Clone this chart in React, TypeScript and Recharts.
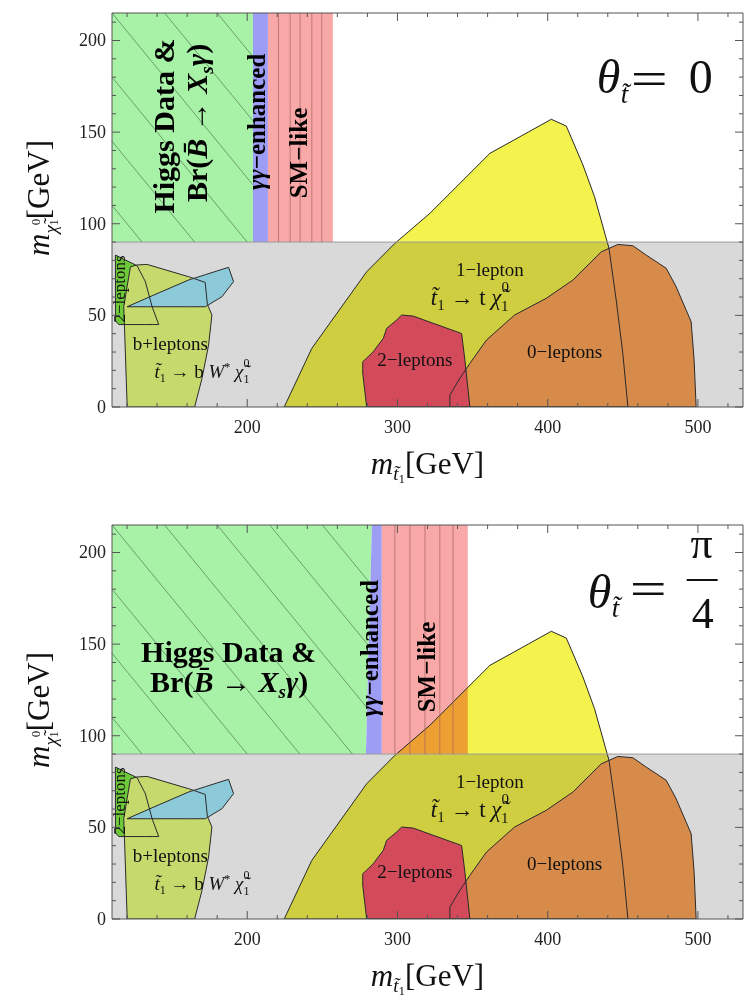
import React from "react";
import { ComposedChart, Area, XAxis, YAxis, ReferenceLine, ReferenceDot } from "recharts";

// rows are [m_stop, low, high] in GeV
type Row = [number, number, number];

const xMajor = [200, 300, 400, 500];
const xTicks = [120, 140, 160, 180, 200, 220, 240, 260, 280, 300, 320, 340, 360, 380, 400, 420, 440, 460, 480, 500, 520];
const yMajor = [0, 50, 100, 150, 200];
const yTicks = [0, 10, 20, 30, 40, 50, 60, 70, 80, 90, 100, 110, 120, 130, 140, 150, 160, 170, 180, 190, 200, 210];

const grayBand: Row[] = [[110, 0, 90], [530, 0, 90]];

// theta = 0
const higgsTop: Row[] = [[110, 90, 215], [203.8, 90, 215]];
const gammaTop: Row[] = [[203.8, 90, 215], [213.8, 90, 215]];
const smTop: Row[] = [[213.8, 90, 215], [257, 90, 215]];
const hatchTop = [
  [110, 110, 130, 90], [110, 145, 165, 90], [110, 180, 200, 90],
  [110, 215, 203.8, 121.2], [145, 215, 203.8, 156.2], [180, 215, 203.8, 191.2],
];
const smLinesTop = [220.8, 228.6, 235.2, 243, 249.6];

// theta = pi/4
const higgsBottom: Row[] = [[110, 90, 215], [279, 90, 215], [283, 215, 215]];
const gammaBottom: Row[] = [[279, 90, 90], [283, 90, 215], [289.6, 90, 215]];
const smBottom: Row[] = [[289.6, 90, 215], [346.8, 90, 215]];
const hatchBottom = [
  [110, 110, 130, 90], [110, 145, 165, 90], [110, 180, 200, 90], [110, 215, 235, 90],
  [145, 215, 270, 90], [180, 215, 280, 115], [215, 215, 281, 149], [250, 215, 282, 183],
];
const smLinesBottom = [298.3, 308.3, 318.3, 328.2, 337];

// search regions, same in both panels
const oneLepton: Row[] = [
  [224.6, 0, 0], [243, 0, 32], [279.5, 0, 73.8], [298.3, 0, 89.3], [321.6, 0, 105.7],
  [361.5, 0, 138.4], [402.4, 0, 157], [412.4, 0, 153.3], [423.5, 0, 132], [431.2, 0, 114.7],
  [440.8, 0, 86.6], [445.6, 0, 58.4], [450, 0, 29.3], [453.4, 0, 0],
];
const zeroLeptons: Row[] = [
  [334.9, 0, 0], [334.9, 0, 6.5], [341.5, 0, 15.6], [348.2, 0, 23.8], [359.3, 0, 36.6],
  [378, 0, 50.2], [399, 0, 59.3], [416.8, 0, 69.3], [435.7, 0, 84.7], [446.7, 0, 88.7],
  [456.7, 0, 88], [465.6, 0, 82.9], [478.9, 0, 75.7], [485.5, 0, 65.6], [495.5, 0, 46.5],
  [497.5, 0, 25], [498.8, 0, 0],
];
const twoLeptons: Row[] = [
  [276.9, 21, 21], [276.9, 18.4, 24.7], [279.5, 0, 26.7], [283.9, 0, 30.2], [290.6, 0, 37.5],
  [292.8, 0, 42.9], [299.5, 0, 47.5], [302.8, 0, 50.2], [310.5, 0, 49.6], [342.7, 0, 40.1],
  [344.9, 0, 25.6], [348.2, 0, 0],
];
const twoLeptonsBW: Row[] = [
  [112.3, 50, 50], [112.3, 47, 82.9], [114.5, 45, 82], [126.7, 45, 77.1], [132.2, 45, 68.4],
  [136.7, 45, 54.7], [141.1, 45, 45],
];
const bLeptons: Row[] = [
  [117.8, 54.7, 54.7], [118.5, 39.3, 58], [120.1, 0, 66], [122.3, 0, 76.5], [126.7, 0, 77.5],
  [133.4, 0, 77.8], [161, 0, 71.1], [165, 0, 70], [169.9, 15.6, 68.6], [172, 24.3, 68],
  [173.5, 30.5, 56], [174.3, 33.8, 54.5], [176.5, 50.2, 50.2],
];
const blueRegion: Row[] = [
  [120.1, 54.7, 54.7], [136.7, 54.7, 60.7], [161, 54.7, 69.3], [172.1, 54.7, 72.2],
  [183.2, 60.2, 75.1], [187.6, 64.9, 76.2], [190.9, 68.4, 68.4],
];

const serif = "'Liberation Serif', 'DejaVu Serif', serif";
const FRAME = "#555";
const EDGE = "#2a2a2a";

const rows = (d: Row[]) => d.map(([x, lo, hi]) => ({ x, r: [lo, hi] }));

const fill = (key: string, d: Row[], color: string, className?: string, ids?: { xAxisId: string; yAxisId: string }) => (
  <Area
    key={key}
    {...(ids || {})}
    data={rows(d)}
    dataKey="r"
    type="linear"
    fill={color}
    fillOpacity={1}
    stroke="none"
    className={className}
    dot={false}
    activeDot={false}
    isAnimationActive={false}
  />
);

const edge = (key: string, d: Row[]) => (
  <Area
    key={key}
    data={rows(d)}
    dataKey="r"
    type="linear"
    fill="none"
    stroke={EDGE}
    strokeWidth={1}
    dot={false}
    activeDot={false}
    isAnimationActive={false}
  />
);

const note = (key: string, x: number, y: number, body: React.ReactNode) => (
  <ReferenceDot
    key={key}
    x={x}
    y={y}
    r={0}
    fill="none"
    stroke="none"
    ifOverflow="visible"
    label={(p: any) => {
      const vb = p.viewBox || { x: 0, y: 0, width: 0, height: 0 };
      return <g transform={`translate(${vb.x + vb.width / 2},${vb.y + vb.height / 2})`}>{body}</g>;
    }}
  />
);

const XTick = (p: any) => {
  const major = xMajor.includes(p.payload.value);
  const len = major ? 8 : 4;
  const dir = p.side === "top" ? -1 : 1;
  return (
    <g>
      <line x1={p.x} x2={p.x} y1={p.y} y2={p.y - dir * len} stroke={FRAME} />
      {p.side !== "top" && major && (
        <text x={p.x} y={p.y + 26} textAnchor="middle" fontFamily={serif} fontSize={18} fill="#222">
          {p.payload.value}
        </text>
      )}
    </g>
  );
};

const YTick = (p: any) => {
  const major = yMajor.includes(p.payload.value);
  const len = major ? 8 : 4;
  const dir = p.side === "right" ? -1 : 1;
  return (
    <g>
      <line x1={p.x} x2={p.x + dir * len} y1={p.y} y2={p.y} stroke={FRAME} />
      {p.side !== "right" && major && (
        <text x={p.x - 6} y={p.y + 6} textAnchor="end" fontFamily={serif} fontSize={18} fill="#222">
          {p.payload.value}
        </text>
      )}
    </g>
  );
};

const xTitle = (p: any) => {
  const vb = p.viewBox;
  return (
    <text x={vb.x + vb.width / 2} y={vb.y + 67} textAnchor="middle" fontFamily={serif} fontSize={31} fill="#111">
      <tspan fontStyle="italic">m</tspan>
      <tspan fontStyle="italic" fontSize={19} dy={6}>{"t\u0303"}</tspan>
      <tspan fontSize={13} dy={3}>1</tspan>
      <tspan dy={-9}>[GeV]</tspan>
    </text>
  );
};

const yTitle = (p: any) => {
  const vb = p.viewBox;
  const cx = vb.x + 49;
  const cy = vb.y + 185;
  return (
    <text x={cx} y={cy} transform={`rotate(-90 ${cx} ${cy})`} textAnchor="middle" fontFamily={serif} fontSize={31} fill="#111">
      <tspan fontStyle="italic">m</tspan>
      <tspan fontStyle="italic" fontSize={19} dy={8}>{"\u03C7\u0303"}</tspan>
      <tspan fontSize={13} dy={-17}>0</tspan>
      <tspan fontSize={13} dx={-7} dy={18}>1</tspan>
      <tspan dy={-9}>[GeV]</tspan>
    </text>
  );
};

const plain = (s: string, size = 19) => (
  <text textAnchor="middle" y={size * 0.33} fontFamily={serif} fontSize={size} fill="#111">{s}</text>
);

const lowerNotes = [
  note("l1", 361.5, 74.7, plain("1\u2212lepton")),
  note("l1d", 348.2, 59.5, (
    <text textAnchor="middle" y={7} fontFamily={serif} fontSize={23} fill="#111">
      <tspan fontStyle="italic">{"t\u0303"}</tspan>
      <tspan fontSize={15} dy={5}>1</tspan>
      <tspan dy={-5}>{" \u2192 t "}</tspan>
      <tspan fontStyle="italic">{"\u03C7\u0303"}</tspan>
      <tspan fontSize={15} dy={-13}>0</tspan>
      <tspan fontSize={15} dx={-8} dy={19}>1</tspan>
    </text>
  )),
  note("l2", 311.6, 25.6, plain("2\u2212leptons")),
  note("l0", 411.3, 30.2, plain("0\u2212leptons")),
  note("lb", 148.8, 34.7, plain("b+leptons")),
  note("lbd", 169.9, 19.3, (
    <text textAnchor="middle" y={6} fontFamily={serif} fontSize={19} fill="#111">
      <tspan fontStyle="italic">{"t\u0303"}</tspan>
      <tspan fontSize={12} dy={4}>1</tspan>
      <tspan dy={-4}>{" \u2192 b "}</tspan>
      <tspan fontStyle="italic">W</tspan>
      <tspan fontSize={12} dy={-7}>*</tspan>
      <tspan dy={7}>{"  "}</tspan>
      <tspan fontStyle="italic">{"\u03C7\u0303"}</tspan>
      <tspan fontSize={12} dy={-11}>0</tspan>
      <tspan fontSize={12} dx={-6} dy={16}>1</tspan>
    </text>
  )),
  note("l2v", 114.5, 64.4, (
    <text transform="rotate(-90)" textAnchor="middle" y={6} fontFamily={serif} fontSize={17} fill="#111">
      {"2\u2212leptons"}
    </text>
  )),
];

const bold = { fontFamily: serif, fontWeight: 700 as const, fill: "#000" };

const higgsLine1 = <>Higgs Data &amp;</>;
const higgsLine2 = (
  <>
    Br(<tspan fontStyle="italic">{"B\u0304"}</tspan>{" \u2192 "}
    <tspan fontStyle="italic">X</tspan>
    <tspan fontStyle="italic" fontSize={19} dy={6}>s</tspan>
    <tspan fontStyle="italic" dy={-6}>{"\u03B3"}</tspan>)
  </>
);
const gammaText = (
  <>
    <tspan fontStyle="italic">{"\u03B3\u03B3"}</tspan>{"\u2212enhanced"}
  </>
);

const topNotes = [
  note("h1", 151, 153.3, <text transform="rotate(-90)" textAnchor="middle" fontSize={30} {...bold}>{higgsLine1}</text>),
  note("h2", 173.5, 155, <text transform="rotate(-90)" textAnchor="middle" fontSize={30} {...bold}>{higgsLine2}</text>),
  note("gg", 212, 155.6, <text transform="rotate(-90)" textAnchor="middle" fontSize={25} {...bold}>{gammaText}</text>),
  note("sm", 239.9, 138.6, <text transform="rotate(-90)" textAnchor="middle" fontSize={25} {...bold}>{"SM\u2212like"}</text>),
  note("th", 432.6, 171.1, (
    <g fontFamily={serif} fill="#111">
      <text x={0} y={0} fontSize={48} fontStyle="italic">{"\u03B8"}</text>
      <text x={24} y={10} fontSize={27} fontStyle="italic">{"t\u0303"}</text>
      <text x={34} y={2} fontSize={48} textLength={37} lengthAdjust="spacingAndGlyphs">=</text>
      <text x={92} y={0} fontSize={48}>0</text>
    </g>
  )),
];

const bottomNotes = [
  note("h1", 187.6, 140.4, <text textAnchor="middle" fontSize={30} {...bold}>{higgsLine1}</text>),
  note("h2", 188, 124, <text textAnchor="middle" fontSize={30} {...bold}>{higgsLine2}</text>),
  note("gg", 287, 147.8, <text transform="rotate(-90)" textAnchor="middle" fontSize={25} {...bold}>{gammaText}</text>),
  note("sm", 324.9, 137.5, <text transform="rotate(-90)" textAnchor="middle" fontSize={25} {...bold}>{"SM\u2212like"}</text>),
  note("th", 426.6, 169.7, (
    <g fontFamily={serif} fill="#111">
      <text x={0} y={0} fontSize={48} fontStyle="italic">{"\u03B8"}</text>
      <text x={24} y={9} fontSize={27} fontStyle="italic">{"t\u0303"}</text>
      <text x={42} y={-3} fontSize={48} textLength={37} lengthAdjust="spacingAndGlyphs">=</text>
      <text x={114} y={-50} fontSize={44} textAnchor="middle">{"\u03C0"}</text>
      <line x1={99} x2={130} y1={-28} y2={-28} stroke="#111" strokeWidth={2} />
      <text x={115} y={20} fontSize={44} textAnchor="middle">4</text>
    </g>
  )),
];

type PanelProps = {
  higgs: Row[];
  gamma: Row[];
  sm: Row[];
  hatch: number[][];
  smLines: number[];
  notes: React.ReactNode[];
};

const Panel = ({ higgs, gamma, sm, hatch, smLines, notes }: PanelProps) => (
  <ComposedChart width={744} height={512} margin={{ top: 12, right: 0, bottom: 0, left: 0 }}>
    {fill("gray", grayBand, "#D9D9D9", undefined, { xAxisId: "top", yAxisId: "right" })}
    {fill("higgs", higgs, "#A8F2A8")}
    {fill("gamma", gamma, "#9D9DF6")}
    {fill("sm", sm, "#F9A8A8")}

    {fill("oneLep", oneLepton, "#F4F24C", "mult")}
    {fill("zeroLep", zeroLeptons, "#D68B4B")}
    {fill("twoLep", twoLeptons, "#D34B5B")}
    {fill("twoLepBW", twoLeptonsBW, "#6DC83A")}
    {fill("bLep", bLeptons, "#C6D96C")}
    {fill("blue", blueRegion, "#8CCAD9")}

    {edge("e1", oneLepton)}
    {edge("e0", zeroLeptons)}
    {edge("e2", twoLeptons)}
    {edge("e2bw", twoLeptonsBW)}
    {edge("eb", bLeptons)}
    {edge("ebl", blueRegion)}

    <ReferenceLine y={90} stroke="#9C9C9C" ifOverflow="visible" />
    {hatch.map(([x1, y1, x2, y2], i) => (
      <ReferenceLine
        key={`h${i}`}
        segment={[{ x: x1, y: y1 }, { x: x2, y: y2 }]}
        stroke="#4F7A4F"
        strokeOpacity={0.7}
        ifOverflow="visible"
      />
    ))}
    {smLines.map((x, i) => (
      <ReferenceLine
        key={`s${i}`}
        segment={[{ x, y: 90 }, { x, y: 215 }]}
        stroke="#A86262"
        strokeOpacity={0.7}
        ifOverflow="visible"
      />
    ))}

    <XAxis
      dataKey="x"
      type="number"
      domain={[110, 530]}
      allowDataOverflow
      ticks={xTicks}
      interval={0}
      tickSize={0}
      tickMargin={0}
      height={105}
      axisLine={{ stroke: FRAME }}
      tickLine={false}
      tick={(p: any) => <XTick {...p} side="bottom" />}
      label={xTitle}
    />
    <XAxis
      xAxisId="top"
      orientation="top"
      dataKey="x"
      type="number"
      domain={[110, 530]}
      allowDataOverflow
      ticks={xTicks}
      interval={0}
      tickSize={0}
      tickMargin={0}
      height={1}
      axisLine={{ stroke: FRAME }}
      tickLine={false}
      tick={(p: any) => <XTick {...p} side="top" />}
    />
    <YAxis
      type="number"
      domain={[0, 215]}
      allowDataOverflow
      ticks={yTicks}
      interval={0}
      tickSize={0}
      tickMargin={0}
      width={112}
      axisLine={{ stroke: FRAME }}
      tickLine={false}
      tick={(p: any) => <YTick {...p} side="left" />}
      label={yTitle}
    />
    <YAxis
      yAxisId="right"
      orientation="right"
      type="number"
      domain={[0, 215]}
      allowDataOverflow
      ticks={yTicks}
      interval={0}
      tickSize={0}
      tickMargin={0}
      width={1}
      axisLine={{ stroke: FRAME }}
      tickLine={false}
      tick={(p: any) => <YTick {...p} side="right" />}
    />

    {lowerNotes}
    {notes}
  </ComposedChart>
);

export default function App() {
  return (
    <div style={{ position: "absolute", left: 0, top: 0, width: 744, height: 999, background: "#fff" }}>
      <style>{".mult{mix-blend-mode:multiply}"}</style>
      <Panel higgs={higgsTop} gamma={gammaTop} sm={smTop} hatch={hatchTop} smLines={smLinesTop} notes={topNotes} />
      <Panel higgs={higgsBottom} gamma={gammaBottom} sm={smBottom} hatch={hatchBottom} smLines={smLinesBottom} notes={bottomNotes} />
    </div>
  );
}
